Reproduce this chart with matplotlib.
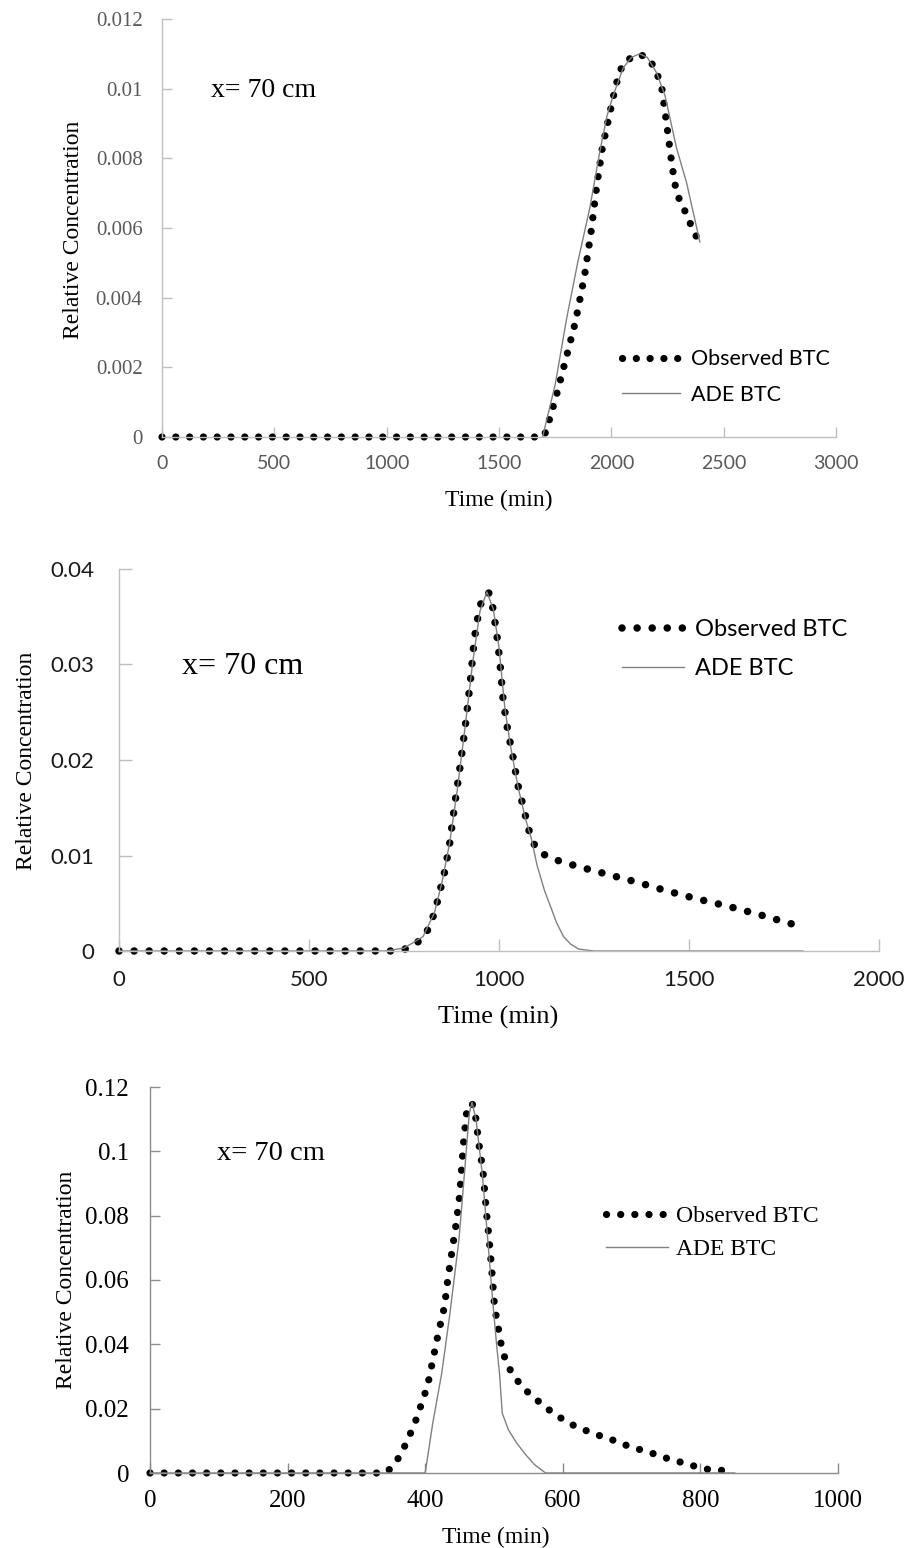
import matplotlib
matplotlib.use("Agg")
import matplotlib.pyplot as plt

SANS = "Lato"
SERIF = "Liberation Serif"

# ---- panel 1 data (time in min, relative concentration) ----
obs1_t = [0, 1700, 1720, 1760, 1800, 1840, 1880, 1910, 1935, 1960, 1990, 2020, 2050,
          2100, 2150, 2195, 2225, 2250, 2270, 2290, 2320, 2360, 2390]
obs1_c = [0, 0, 0.0004, 0.0013, 0.0023, 0.0033, 0.0046, 0.0059, 0.0072, 0.0083, 0.0092,
          0.0101, 0.0107, 0.01095, 0.01095, 0.0106, 0.0100, 0.0088, 0.0078, 0.0070,
          0.0066, 0.0060, 0.0056]
ade1_t = [1694, 1750, 1801, 1850, 1905, 1949, 1980, 2008, 2053, 2090, 2125, 2160,
          2202, 2239, 2290, 2335, 2394]
ade1_c = [0, 0.0015, 0.0034, 0.0050, 0.0066, 0.0082, 0.0092, 0.0098, 0.0106, 0.0109,
          0.0110, 0.0109, 0.01045, 0.0098, 0.0083, 0.0073, 0.0056]

# ---- panel 2 data ----
obs2_t = [0, 735, 770, 800, 820, 838, 857, 870, 884, 899, 913, 925, 935, 947, 958, 973,
          983, 994, 1002, 1011, 1023, 1037, 1049, 1067, 1084, 1102, 1136, 1212, 1288,
          1364, 1441, 1517, 1601, 1677, 1756, 1800]
obs2_c = [0, 0, 0.0004, 0.0014, 0.0027, 0.0052, 0.0083, 0.0112, 0.0155, 0.0197, 0.0241,
          0.0284, 0.0327, 0.0356, 0.0372, 0.0375, 0.0361, 0.0332, 0.0304, 0.0262, 0.0231,
          0.0203, 0.0175, 0.0146, 0.0118, 0.0105, 0.0097, 0.0088, 0.0080, 0.0072, 0.0063,
          0.0055, 0.0047, 0.0039, 0.0030, 0.0025]
ade2_t = [0, 700, 750, 800, 830, 850, 870, 890, 910, 930, 950, 968, 985, 1000, 1015,
          1030, 1050, 1070, 1085, 1100, 1120, 1140, 1151, 1170, 1189, 1210, 1250, 1800]
ade2_c = [0, 0, 0.0003, 0.0015, 0.0040, 0.0072, 0.0113, 0.0168, 0.0232, 0.0300, 0.0356,
          0.0376, 0.0358, 0.0318, 0.0256, 0.0215, 0.0172, 0.0138, 0.0118, 0.0090, 0.0063,
          0.0042, 0.0030, 0.0015, 0.0007, 0.0002, 0, 0]

# ---- panel 3 data ----
obs3_t = [0, 343, 356, 366, 375, 383, 390, 396, 403, 411, 419, 428, 433, 439, 445, 450,
          453, 456, 460, 468, 473, 478, 484, 489, 493, 498, 501, 505, 508, 512, 518, 527,
          540, 554, 571, 586, 603, 620, 641, 660, 679, 698, 717, 736, 755, 776, 795, 814,
          833]
obs3_c = [0, 0, 0.0029, 0.0064, 0.0106, 0.0145, 0.0184, 0.0226, 0.0267, 0.0350, 0.0434,
          0.0517, 0.0605, 0.0691, 0.0776, 0.0861, 0.0950, 0.1034, 0.1117, 0.1151, 0.1112,
          0.1024, 0.0939, 0.0812, 0.0726, 0.0598, 0.0512, 0.0468, 0.0426, 0.0383, 0.0343,
          0.0307, 0.0271, 0.0241, 0.0212, 0.0186, 0.0163, 0.0143, 0.0126, 0.0111, 0.0098,
          0.0081, 0.0070, 0.0057, 0.0043, 0.0031, 0.0019, 0.0010, 0.0008]
ade3_t = [0, 400, 411, 424, 436, 449, 457, 464, 468, 474, 483, 491, 498, 504, 508, 512,
          521, 533, 546, 559, 575, 850]
ade3_c = [0, 0, 0.0155, 0.0310, 0.0497, 0.0724, 0.0930, 0.1117, 0.1153, 0.1097, 0.0930,
          0.0724, 0.0538, 0.0393, 0.0310, 0.0186, 0.0134, 0.0093, 0.0057, 0.0026, 0, 0]

xticks1 = [0, 500, 1000, 1500, 2000, 2500, 3000]
yticks1 = [0, 0.002, 0.004, 0.006, 0.008, 0.01, 0.012]
xticks2 = [0, 500, 1000, 1500, 2000]
yticks2 = [0, 0.01, 0.02, 0.03, 0.04]
xticks3 = [0, 200, 400, 600, 800, 1000]
yticks3 = [0, 0.02, 0.04, 0.06, 0.08, 0.1, 0.12]

fig = plt.figure(figsize=(9.09, 15.48), dpi=100)
W, H = 909.0, 1548.0


def make_axes(l, r, t, b):
    # pixel box -> figure fractions
    return fig.add_axes([l / W, 1 - b / H, (r - l) / W, (b - t) / H])


def style(ax, spine_col, xfont, yfont, xsize, ysize, tcol, xpad, ypad, ticklen):
    for s in ["top", "right"]:
        ax.spines[s].set_visible(False)
    for s in ["left", "bottom"]:
        ax.spines[s].set_color(spine_col)
        ax.spines[s].set_linewidth(1.0)
    ax.tick_params(direction="in", length=ticklen, width=1.0, color=spine_col,
                   labelcolor=tcol)
    ax.tick_params(axis="x", pad=xpad)
    ax.tick_params(axis="y", pad=ypad)
    for lab in ax.get_xticklabels():
        lab.set_fontfamily(xfont)
        lab.set_fontsize(xsize)
    for lab in ax.get_yticklabels():
        lab.set_fontfamily(yfont)
        lab.set_fontsize(ysize)


def fmt(v):
    return "0" if v == 0 else ("%g" % v)


def draw(ax, ot, oc, at, ac, lw, gap):
    # observed curve: Excel-like round-dot line
    ax.plot(ot, oc, color="black", lw=lw, linestyle=(0, (0.01, gap)),
            dash_capstyle="round", clip_on=False, label="Observed BTC")
    ax.plot(at, ac, color="#808080", lw=1.0, clip_on=False, label="ADE BTC")


# ---------------- panel 1 ----------------
ax1 = make_axes(162, 836, 19, 437)
draw(ax1, obs1_t, obs1_c, ade1_t, ade1_c, 5.2, 1.9)
ax1.set_xlim(0, 3000)
ax1.set_ylim(0, 0.012)
ax1.set_xticks(xticks1)
ax1.set_yticks(yticks1)
ax1.set_yticklabels([fmt(v) for v in yticks1])
style(ax1, "#bfbfbf", SANS, SERIF, 14, 15, "#595959", 13, 14, 7)
ax1.text(0.5, -0.151, "Time (min)", transform=ax1.transAxes, ha="center", va="center",
         fontsize=17, family=SERIF)
ax1.text(-0.132, 0.495, "Relative Concentration", transform=ax1.transAxes, ha="center",
         va="center", rotation=90, fontsize=17, family=SERIF)
ax1.text(0.15, 0.83, "x= 70 cm", transform=ax1.transAxes, ha="center", va="center",
         fontsize=20, family=SERIF)
ax1.legend(loc="center left", bbox_to_anchor=(0.682, 0.1435), frameon=False,
           prop={"family": SANS, "size": 15.5}, handlelength=2.7, handletextpad=0.5,
           labelspacing=0.7, borderpad=0, borderaxespad=0)

# ---------------- panel 2 ----------------
ax2 = make_axes(119, 879, 569, 951)
draw(ax2, obs2_t, obs2_c, ade2_t, ade2_c, 5.4, 2.0)
ax2.set_xlim(0, 2000)
ax2.set_ylim(0, 0.04)
ax2.set_xticks(xticks2)
ax2.set_yticks(yticks2)
ax2.set_yticklabels([fmt(v) for v in yticks2])
style(ax2, "#bfbfbf", SANS, SANS, 16, 16, "#1a1a1a", 14, 18, 9)
ax2.text(0.499, -0.175, "Time (min)", transform=ax2.transAxes, ha="center", va="center",
         fontsize=19, family=SERIF)
ax2.text(-0.122, 0.497, "Relative Concentration", transform=ax2.transAxes, ha="center",
         va="center", rotation=90, fontsize=17, family=SERIF)
ax2.text(0.163, 0.746, "x= 70 cm", transform=ax2.transAxes, ha="center", va="center",
         fontsize=23, family=SERIF)
ax2.legend(loc="center left", bbox_to_anchor=(0.662, 0.79), frameon=False,
           prop={"family": SANS, "size": 17}, handlelength=2.6, handletextpad=0.5,
           labelspacing=0.75, borderpad=0, borderaxespad=0)

# ---------------- panel 3 ----------------
ax3 = make_axes(150, 838, 1087, 1473)
draw(ax3, obs3_t, obs3_c, ade3_t, ade3_c, 5.2, 1.95)
ax3.set_xlim(0, 1000)
ax3.set_ylim(0, 0.12)
ax3.set_xticks(xticks3)
ax3.set_yticks(yticks3)
ax3.set_yticklabels([fmt(v) for v in yticks3])
style(ax3, "#8c8c8c", SERIF, SERIF, 18, 18, "black", 12, 15, 7)
ax3.text(0.503, -0.166, "Time (min)", transform=ax3.transAxes, ha="center", va="center",
         fontsize=17, family=SERIF)
ax3.text(-0.121, 0.5, "Relative Concentration", transform=ax3.transAxes, ha="center",
         va="center", rotation=90, fontsize=17, family=SERIF)
ax3.text(0.176, 0.829, "x= 70 cm", transform=ax3.transAxes, ha="center", va="center",
         fontsize=20.5, family=SERIF)
ax3.legend(loc="center left", bbox_to_anchor=(0.663, 0.6225), frameon=False,
           prop={"family": SERIF, "size": 17}, handlelength=2.6, handletextpad=0.35,
           labelspacing=0.5, borderpad=0, borderaxespad=0)

fig.savefig("out.png", dpi=100)
